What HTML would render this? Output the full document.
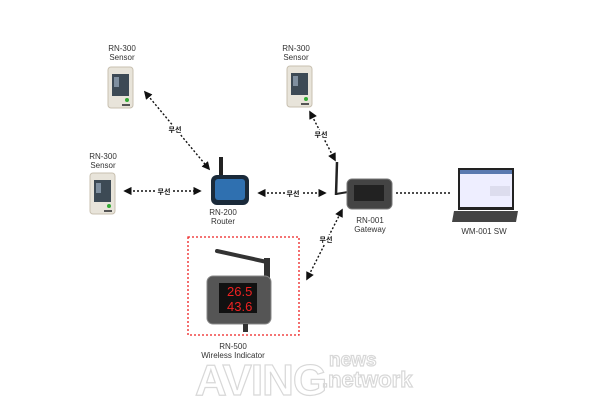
<!DOCTYPE html>
<html><head><meta charset="utf-8"><style>
html,body{margin:0;padding:0;background:#fff}
svg text{font-family:"Liberation Sans","Noto Sans CJK KR",sans-serif}
</style></head><body>
<svg width="600" height="400" viewBox="0 0 600 400" xmlns="http://www.w3.org/2000/svg">
<defs>
<marker id="a" viewBox="0 0 10 10" refX="8" refY="5" markerWidth="6" markerHeight="6" orient="auto-start-reverse"><path d="M0,0L10,5L0,10z" fill="#111"/></marker>
<g id="sensor">
<rect x="0" y="0" width="25" height="41" rx="3" fill="#e8e4da" stroke="#c8c0b0"/>
<rect x="4" y="7" width="17" height="22" fill="#3d4a55"/>
<rect x="6" y="10" width="5" height="10" fill="#8090a0"/>
<circle cx="19" cy="33" r="2" fill="#3a3"/>
<rect x="14" y="37" width="8" height="2" fill="#555"/>
</g>
</defs>
<g font-size="8" fill="#333" text-anchor="middle">
<text x="122" y="51">RN-300</text><text x="122" y="60">Sensor</text>
<text x="296" y="51">RN-300</text><text x="296" y="60">Sensor</text>
<text x="103" y="159">RN-300</text><text x="103" y="168">Sensor</text>
<text x="223" y="215">RN-200</text><text x="223" y="224">Router</text>
<text x="370" y="223">RN-001</text><text x="370" y="232">Gateway</text>
<text x="484" y="234">WM-001 SW</text>
<text x="233" y="349">RN-500</text><text x="233" y="358">Wireless Indicator</text>
</g>
<use href="#sensor" x="108" y="67"/>
<use href="#sensor" x="287" y="66"/>
<use href="#sensor" x="90" y="173"/>
<!-- router -->
<rect x="219" y="157" width="4" height="20" fill="#222"/>
<rect x="211" y="175" width="38" height="30" rx="6" fill="#1a2a3a"/>
<rect x="215" y="179" width="30" height="21" rx="3" fill="#2f70b0"/>
<!-- gateway -->
<line x1="337" y1="162" x2="336" y2="195" stroke="#222" stroke-width="2.5"/>
<line x1="336" y1="194" x2="348" y2="192" stroke="#222" stroke-width="2"/>
<rect x="347" y="179" width="45" height="30" rx="5" fill="#444" stroke="#777"/>
<rect x="354" y="185" width="30" height="16" fill="#222"/>
<!-- laptop -->
<rect x="458" y="168" width="56" height="42" fill="#222"/>
<rect x="460" y="170" width="52" height="37" fill="#eef"/>
<rect x="460" y="170" width="52" height="4" fill="#5a7ab0"/>
<rect x="490" y="186" width="20" height="10" fill="#dde"/>
<path d="M454,211L518,211L516,222L452,222Z" fill="#444"/>
<!-- indicator -->
<rect x="188" y="237" width="111" height="98" fill="none" stroke="#e22" stroke-width="1.3" stroke-dasharray="2,2"/>
<line x1="217" y1="251" x2="267" y2="262" stroke="#333" stroke-width="4" stroke-linecap="round"/>
<rect x="264" y="258" width="6" height="20" fill="#333"/>
<rect x="207" y="276" width="64" height="48" rx="6" fill="#555" stroke="#888"/>
<rect x="219" y="283" width="38" height="30" fill="#111"/>
<rect x="243" y="324" width="5" height="8" fill="#333"/>
<g font-size="13" fill="#e22" font-family="Liberation Mono,monospace"><text x="227" y="296">26.5</text><text x="227" y="311">43.6</text></g>
<!-- connectors -->
<g stroke="#111" stroke-width="1.4" stroke-dasharray="2,2" fill="none">
<line x1="145" y1="92" x2="209" y2="169" marker-start="url(#a)" marker-end="url(#a)"/>
<line x1="125" y1="191" x2="200" y2="191" marker-start="url(#a)" marker-end="url(#a)"/>
<line x1="259" y1="193" x2="325" y2="193" marker-start="url(#a)" marker-end="url(#a)"/>
<line x1="310" y1="112" x2="335" y2="160" marker-start="url(#a)" marker-end="url(#a)"/>
<line x1="307" y1="279" x2="342" y2="210" marker-start="url(#a)" marker-end="url(#a)"/>
<line x1="396" y1="193" x2="452" y2="193"/>
</g>
<g font-size="7" font-weight="bold" fill="#111" text-anchor="middle">
<rect x="167" y="125" width="16" height="9" fill="#fff"/><text x="175" y="132">무선</text>
<rect x="156" y="187" width="16" height="9" fill="#fff"/><text x="164" y="194">무선</text>
<rect x="285" y="189" width="16" height="9" fill="#fff"/><text x="293" y="196">무선</text>
<rect x="313" y="130" width="16" height="9" fill="#fff"/><text x="321" y="137">무선</text>
<rect x="318" y="235" width="16" height="9" fill="#fff"/><text x="326" y="242">무선</text>
</g>
<!-- watermark -->
<g fill="none" stroke="#d8d8d8" stroke-width="1.2" font-weight="bold">
<text x="195" y="395" font-size="44" letter-spacing="-1">AVING</text>
<text x="329" y="366" font-size="19">news</text>
<text x="322" y="387" font-size="22">.network</text>
</g>
</svg>
</body></html>
